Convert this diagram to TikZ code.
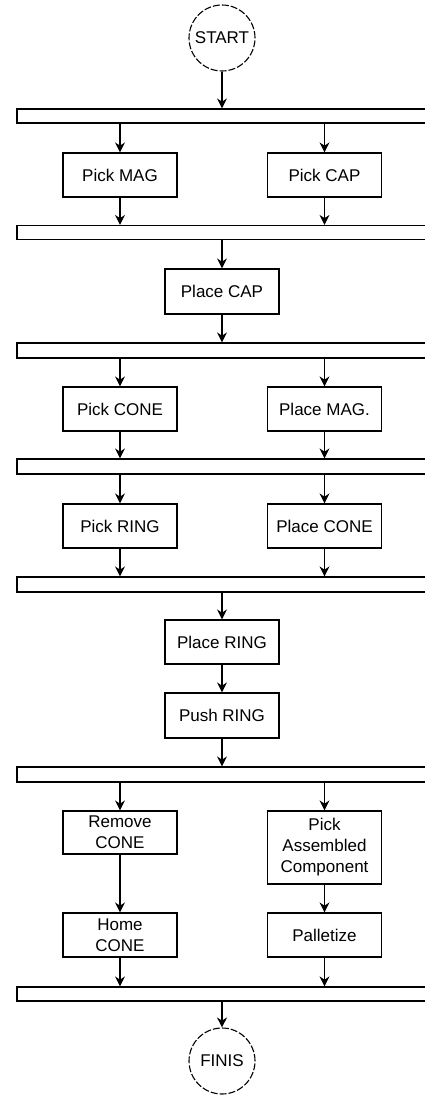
\documentclass[tikz,border=0pt]{standalone}
\usepackage{fontspec}
\setmainfont{Liberation Sans}
\usetikzlibrary{calc}
\usetikzlibrary{arrows.meta}
\tikzstyle{termnode} = [draw, circle, dash pattern=on 7pt off 2pt, minimum size=66pt, inner sep=0pt, line width=1.1pt]
\tikzstyle{actbox} = [draw, rectangle, minimum width=114pt, minimum height=44pt, inner sep=0pt, align=center, line width=1.2pt]
\tikzstyle{syncbar} = [draw, rectangle, minimum width=415pt, minimum height=14pt, inner sep=0pt, line width=1.2pt]
\tikzstyle{flow} = [-{Stealth[length=10pt,width=10pt]}, line width=1.2pt]

\begin{document}
\begin{tikzpicture}[x=1pt, y=-1pt, font=\fontsize{17}{21}\selectfont]
    \useasboundingbox (0,0) rectangle (425,1095);

    \node[termnode] (start) at (222,38) {START};
    \node[syncbar] (bar1) at ($(start)+(2.5,78)$) {};
    \node[actbox] (pick_mag) at (120,175) {Pick MAG};
    \node[actbox] (pick_cap) at ($(pick_mag)+(204.5,0)$) {Pick CAP};
    \node[syncbar] (bar2) at ($(bar1)+(0,116.5)$) {};
    \node[actbox, minimum height=45pt] (place_cap) at ($(start)+(0,253.5)$) {Place CAP};
    \node[syncbar, minimum height=15pt] (bar3) at ($(bar1)+(0,234.5)$) {};

    \node[actbox] (pick_cone) at ($(pick_mag)+(0,234)$) {Pick CONE};
    \node[actbox] (place_mag) at ($(pick_cone)+(204.5,0)$) {Place MAG.};
    \node[syncbar, minimum height=15pt] (bar4) at ($(bar1)+(0,350.5)$) {};
    \node[actbox] (pick_ring) at ($(pick_cone)+(0,117)$) {Pick RING};
    \node[actbox] (place_cone) at ($(pick_ring)+(204.5,0)$) {Place CONE};
    \node[syncbar, minimum height=15pt] (bar5) at ($(bar1)+(0,468.5)$) {};

    \node[actbox] (place_ring) at ($(start)+(0,604)$) {Place RING};
    \node[actbox, minimum height=45pt] (push_ring) at ($(place_ring)+(0,73.5)$) {Push RING};
    \node[syncbar, minimum height=15pt] (bar6) at ($(bar1)+(0,658.5)$) {};

    \node[actbox, minimum height=43pt] (remove_cone) at ($(pick_mag)+(0,657.5)$) {Remove\\CONE};
    \node[actbox, minimum height=73pt] (pick_asm) at ($(pick_cap)+(0,672.5)$) {Pick\\Assembled\\Component};
    \node[actbox] (home_cone) at ($(pick_mag)+(0,760)$) {Home\\CONE};
    \node[actbox] (palletize) at ($(home_cone)+(204.5,0)$) {Palletize};
    \node[syncbar] (bar7) at ($(bar1)+(0,878)$) {};
    \node[termnode] (finis) at ($(start)+(0,1023)$) {FINIS};

    \draw[flow] (start) -- (start |- bar1.north);
    \draw[flow] (bar1.south -| pick_mag) -- (pick_mag);
    \draw[flow] (bar1.south -| pick_cap) -- (pick_cap);
    \draw[flow] (pick_mag) -- (pick_mag |- bar2.north);
    \draw[flow] (pick_cap) -- (pick_cap |- bar2.north);
    \draw[flow] (bar2.south -| place_cap) -- (place_cap);
    \draw[flow] (place_cap) -- (place_cap |- bar3.north);

    \draw[flow] (bar3.south -| pick_cone) -- (pick_cone);
    \draw[flow] (bar3.south -| place_mag) -- (place_mag);
    \draw[flow] (pick_cone) -- (pick_cone |- bar4.north);
    \draw[flow] (place_mag) -- (place_mag |- bar4.north);
    \draw[flow] (bar4.south -| pick_ring) -- (pick_ring);
    \draw[flow] (bar4.south -| place_cone) -- (place_cone);
    \draw[flow] (pick_ring) -- (pick_ring |- bar5.north);
    \draw[flow] (place_cone) -- (place_cone |- bar5.north);

    \draw[flow] (bar5.south -| place_ring) -- (place_ring);
    \draw[flow] (place_ring) -- (push_ring);
    \draw[flow] (push_ring) -- (push_ring |- bar6.north);

    \draw[flow] (bar6.south -| remove_cone) -- (remove_cone);
    \draw[flow] (bar6.south -| pick_asm) -- (pick_asm);
    \draw[flow] (remove_cone) -- (home_cone);
    \draw[flow] (pick_asm) -- (palletize);
    \draw[flow] (home_cone) -- (home_cone |- bar7.north);
    \draw[flow] (palletize) -- (palletize |- bar7.north);
    \draw[flow] (bar7.south -| finis) -- (finis);
\end{tikzpicture}
\end{document}
